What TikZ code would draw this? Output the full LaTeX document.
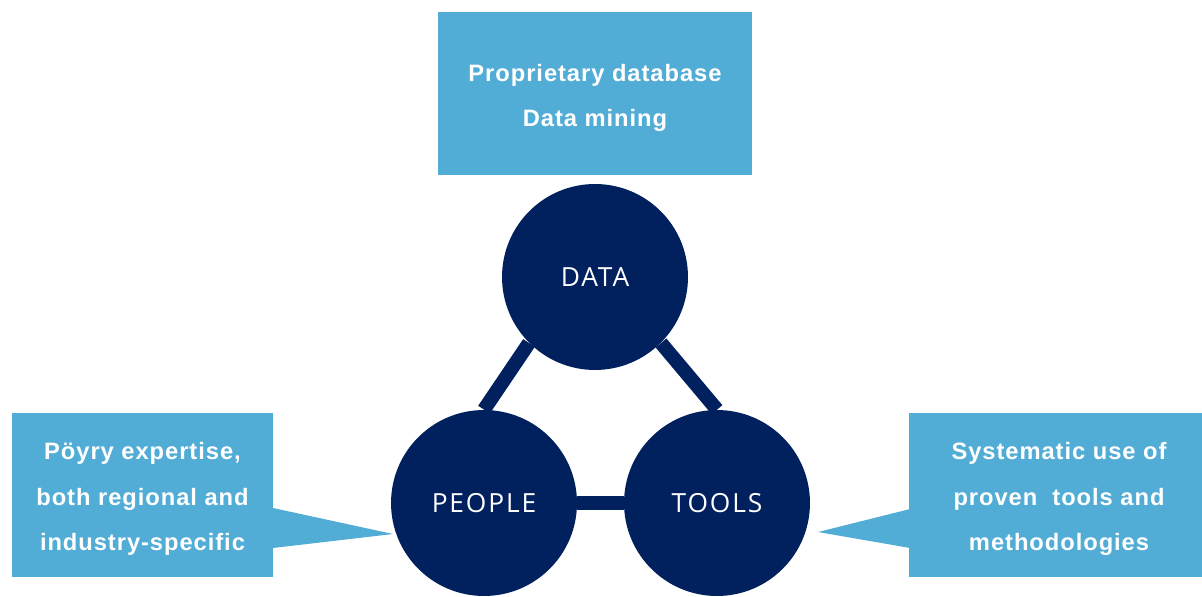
\documentclass[tikz,border=0pt]{standalone}
\usepackage{fontspec}
\setmainfont{Liberation Sans}
\newfontfamily\circfont[LetterSpace=7]{Open Sans}
\newfontfamily\boxfont[LetterSpace=4]{Liberation Sans}
\usetikzlibrary{backgrounds}
\definecolor{boxblue}{HTML}{52ADD6}
\definecolor{navy}{HTML}{00205E}
\begin{document}
\begin{tikzpicture}[x=0.02cm,y=-0.02cm,
  infobox/.style={fill=boxblue,inner sep=0pt},
  boxtext/.style={text=white,inner sep=0pt,align=center,
    font=\boxfont\bfseries\fontsize{13.5}{26}\selectfont},
  hub/.style={circle,fill=navy,text=white,inner sep=0pt,minimum size=3.72cm,
    font=\circfont\fontsize{15}{18}\selectfont},
  link/.style={navy,line width=0.28cm}]
\useasboundingbox (0,0) rectangle (1202,597);

% boxes
\node[infobox,minimum width=6.28cm,minimum height=3.26cm] (topbox) at (595,93.5) {};
\node[infobox,minimum width=5.22cm,minimum height=3.28cm] (leftbox) at (142.5,495) {};
\node[infobox,minimum width=5.86cm,minimum height=3.28cm] (rightbox) at (1055.5,495) {};

\node[boxtext] (toptext) at ([yshift=-0.09cm]topbox.center)
  {Proprietary database\\Data mining};
\node[boxtext] (lefttext) at ([yshift=-0.08cm]leftbox.center)
  {P\"oyry expertise,\\both regional and\\industry-specific};
\node[boxtext] (righttext) at ([xshift=0.07cm,yshift=-0.08cm]rightbox.center)
  {Systematic use of\\proven\ \ tools and\\methodologies};

% pointers
\coordinate (lptr) at (393,534);
\coordinate (rptr) at (818,532);
\fill[boxblue] (273,508) -- (273,548) -- (lptr) -- cycle;
\fill[boxblue] (910,509) -- (910,548) -- (rptr) -- cycle;

% circles
\node[hub] (data) at (595,277) {DATA};
\node[hub] (people) at (484,503) {PEOPLE};
\node[hub] (tools) at (717,503) {TOOLS};

\begin{scope}[on background layer]
\draw[link] (people.north) -- (data.south west);
\draw[link] (tools.north) -- (data.south east);
\draw[link] (people.east) -- (tools.west);
\end{scope}

\end{tikzpicture}
\end{document}
